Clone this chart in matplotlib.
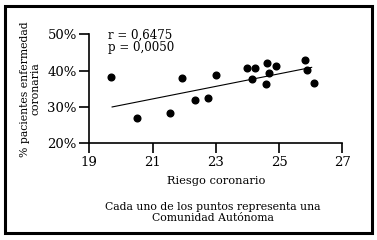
import matplotlib
matplotlib.use("Agg")
import matplotlib.pyplot as plt
from matplotlib.patches import Rectangle
from matplotlib.ticker import FuncFormatter

matplotlib.rcParams['font.family'] = 'serif'
matplotlib.rcParams['font.serif'] = ['DejaVu Serif']

# riesgo coronario vs % pacientes (one point per Comunidad Autonoma)
riesgo = [19.69, 20.51, 21.56, 21.92, 22.35, 22.75, 23.01, 23.99, 24.24,
          24.13, 24.58, 24.63, 24.67, 24.91, 25.82, 25.89, 26.09]
pacientes = [38.2, 27.0, 28.3, 38.0, 31.8, 32.5, 38.9, 40.7, 40.7,
             37.7, 36.2, 42.0, 39.4, 41.4, 42.9, 40.2, 36.5]

# regression line ends
fit_x = [19.72, 26.03]
fit_y = [30.0, 40.9]

xticks = [19, 21, 23, 25, 27]
yticks = [20, 30, 40, 50]

fig = plt.figure(figsize=(3.77, 2.40), dpi=100)
ax = fig.add_axes([0.237, 0.403, 0.671, 0.454])

ax.plot(fit_x, fit_y, '-', color='black', linewidth=0.8)
ax.plot(riesgo, pacientes, 'o', color='black', markersize=4.8, clip_on=False)

ax.set_xlim(19, 27)
ax.set_ylim(20, 50)
ax.set_xticks(xticks)
ax.set_yticks(yticks)
ax.yaxis.set_major_formatter(FuncFormatter(lambda v, p: '%d%%' % v))
for s in ['top', 'right']:
    ax.spines[s].set_visible(False)
for s in ['left', 'bottom']:
    ax.spines[s].set_linewidth(1.2)
ax.tick_params(direction='out', length=7, width=1.2, labelsize=9.5, pad=2)

ax.set_xlabel('Riesgo coronario', fontsize=8.2, labelpad=5)
ax.set_ylabel('% pacientes enfermedad\ncoronaria', fontsize=7.8, linespacing=1.0, labelpad=5)

ax.text(0.075, 1.05, 'r = 0,6475\np = 0,0050', transform=ax.transAxes,
        fontsize=8.5, va='top', ha='left', linespacing=0.95)

fig.text(0.565, 0.115, 'Cada uno de los puntos representa una\nComunidad Autónoma',
         ha='center', va='center', fontsize=7.8, linespacing=1.05)

# outer frame
fig.patches.append(Rectangle((0.014, 0.03), 0.973, 0.945, transform=fig.transFigure,
                             fill=False, edgecolor='black', linewidth=2.2))

plt.savefig('out.png', dpi=100)
